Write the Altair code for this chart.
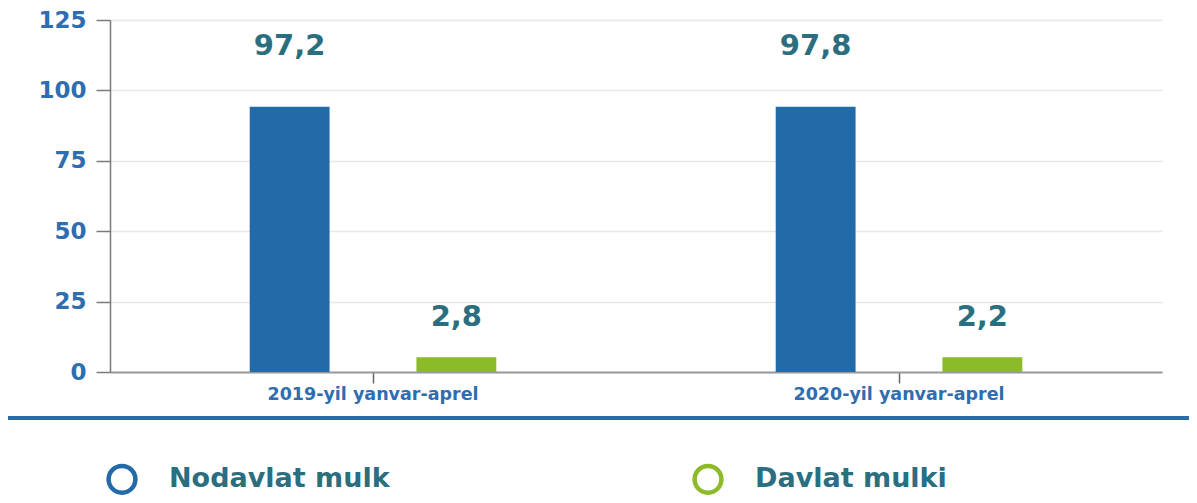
import altair as alt
import pandas as pd

periods = ["2019-yil yanvar-aprel", "2020-yil yanvar-aprel"]
series = ["Nodavlat mulk", "Davlat mulki"]
# bar heights as drawn in the picture
bars_nodavlat = [94.2, 94.2]
bars_davlat = [5.2, 5.2]
# value labels printed above the bars
labels_nodavlat = ["97,2", "97,8"]
labels_davlat = ["2,8", "2,2"]
y_ticks = [0, 25, 50, 75, 100, 125]

colors = ["#226ba8", "#8bbb29"]
text_color = "#2b6e80"
axis_label_color = "#2d6db0"

rows = []
for i, p in enumerate(periods):
    rows.append({"period": p, "series": series[0], "value": bars_nodavlat[i], "label": labels_nodavlat[i]})
    rows.append({"period": p, "series": series[1], "value": bars_davlat[i], "label": labels_davlat[i]})
df = pd.DataFrame(rows)

x_enc = alt.X(
    "period:N",
    sort=periods,
    scale=alt.Scale(paddingInner=0, paddingOuter=0),
    axis=alt.Axis(
        title=None,
        labelAngle=0,
        grid=False,
        domainColor="#999999",
        domainWidth=2,
        tickColor="#666666",
        tickWidth=1.5,
        tickSize=11,
        labelFont="DejaVu Sans",
        labelFontSize=17.5,
        labelFontWeight="bold",
        labelColor=axis_label_color,
        labelPadding=2,
        labelLimit=500,
    ),
)
xoff = alt.XOffset(
    "series:N", sort=series, scale=alt.Scale(domain=series, paddingInner=0.521, paddingOuter=0.838)
)
y_enc = alt.Y(
    "value:Q",
    scale=alt.Scale(domain=[0, 125], nice=False),
    axis=alt.Axis(
        title=None,
        values=y_ticks,
        grid=True,
        gridColor="#e8e8e8",
        gridWidth=1.5,
        domainColor="#7a7a7a",
        domainWidth=1.5,
        tickColor="#7a7a7a",
        tickWidth=1.5,
        tickSize=14,
        labelFont="DejaVu Sans",
        labelFontSize=23,
        labelFontWeight="bold",
        labelColor=axis_label_color,
        labelPadding=10,
    ),
)

color_scale = alt.Scale(domain=series, range=colors)
legend = alt.Legend(
    title=None,
    orient="none",
    direction="horizontal",
    legendX=-4,
    legendY=443,
    padding=0,
    symbolType="circle",
    symbolSize=720,
    symbolStrokeWidth=4.5,
    symbolFillColor="white",
    labelFont="DejaVu Sans",
    labelFontSize=27,
    labelFontWeight="bold",
    labelColor=text_color,
    labelOffset=31,
    labelLimit=400,
    columnPadding=295,
)
base = alt.Chart(df)

# one bar layer per series, coloured by its own series colour
bar_layers = [
    base.transform_filter(alt.datum.series == s)
    .mark_bar(color=colors[i])
    .encode(x=x_enc, xOffset=xoff, y=y_enc)
    for i, s in enumerate(series)
]

# legend carrier: open circles, pushed outside the view and clipped away
legend_pts = base.mark_point(
    clip=True, filled=False, shape="circle", strokeWidth=4.5, opacity=1
).encode(
    x=x_enc,
    y=alt.value(-1000),
    color=alt.Color("series:N", sort=series, scale=color_scale, legend=legend),
)

text_common = dict(
    font="DejaVu Sans",
    fontSize=29,
    fontWeight="bold",
    color=text_color,
    align="center",
    baseline="middle",
)

text_nod = base.transform_filter(alt.datum.series == series[0]).mark_text(
    dy=-61, **text_common
).encode(x=x_enc, xOffset=xoff, y=y_enc, text="label:N")

text_dav = base.transform_filter(alt.datum.series == series[1]).mark_text(
    dy=-40, **text_common
).encode(x=x_enc, xOffset=xoff, y=y_enc, text="label:N")

sep = alt.Chart(df).mark_rule(color="#2a6aad", strokeWidth=3.5).encode(
    x=alt.value(-110), x2=alt.value(1090), y=alt.value(398)
)

chart = (
    alt.layer(legend_pts, *bar_layers, text_nod, text_dav, sep)
    .properties(
        width=1052,
        height=352,
        padding={"left": 102, "top": 12, "right": 27, "bottom": 123},
        autosize=alt.AutoSizeParams(type="none"),
    )
    .configure_view(strokeWidth=0)
)

chart.save("out.html", embed_options={"renderer": "svg", "actions": False})
